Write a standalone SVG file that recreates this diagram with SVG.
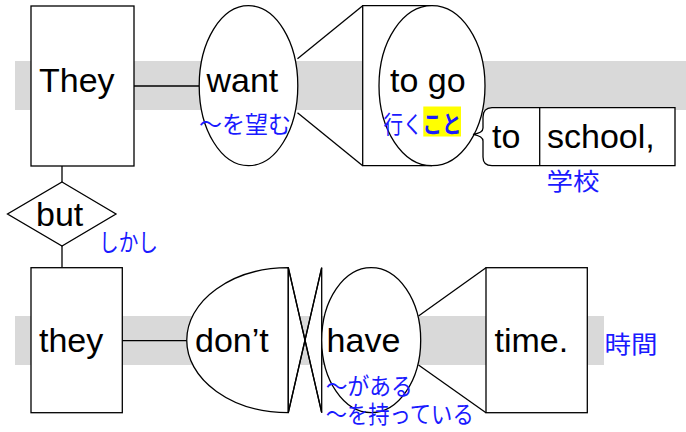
<svg xmlns="http://www.w3.org/2000/svg" width="686" height="432" viewBox="0 0 686 432">
<style>
.band{fill:#d9d9d9;stroke:none}
.shape{fill:#fff;stroke:#000;stroke-width:1.3}
.ln{fill:none;stroke:#000;stroke-width:1.3}
.en{font-family:"Liberation Sans",Arial,sans-serif;font-size:34px;fill:#000}
.ja{font-family:"Noto Sans CJK JP",sans-serif;font-size:24px;fill:#1a1aff}
.hl{fill:#ffff00}
</style>
<rect width="686" height="432" fill="#fff"/>
<g id="bands">
<rect class="band" x="15" y="61" width="671" height="49"/>
<rect class="band" x="15" y="316" width="589" height="49"/>
</g>
<g id="connectors">
<line class="ln" x1="133" y1="86" x2="199" y2="86"/>
<line class="ln" x1="297.5" y1="58.7" x2="362.7" y2="5.7"/>
<line class="ln" x1="297.5" y1="112.7" x2="362.7" y2="165.7"/>
<line class="ln" x1="62" y1="166" x2="62" y2="182"/>
<line class="ln" x1="62" y1="246" x2="62" y2="267.7"/>
<line class="ln" x1="122" y1="340.7" x2="187" y2="340.7"/>
<line class="ln" x1="418.5" y1="316" x2="486" y2="267.7"/>
<line class="ln" x1="418.5" y1="365" x2="486" y2="412.7"/>
</g>
<g id="node-they1">
<rect class="shape" x="31" y="6" width="103" height="160"/>
<text class="en" x="39" y="92">They</text>
</g>
<g id="node-want">
<ellipse class="shape" cx="248.5" cy="85.7" rx="49.3" ry="80"/>
<text class="en" x="206.5" y="92">want</text>
<text class="ja" x="199" y="133" textLength="92" lengthAdjust="spacingAndGlyphs">～を望む</text>
</g>
<g id="node-togo">
<path class="shape" d="M432,5.7 H362.7 V165.7 H432"/>
<ellipse class="shape" cx="432" cy="85.7" rx="53" ry="80"/>
<text class="en" x="390" y="92">to go</text>
<rect class="hl" x="423.3" y="106.5" width="37.7" height="30"/>
<text class="ja" x="383.5" y="133" textLength="78" lengthAdjust="spacingAndGlyphs">行く<tspan font-weight="bold">こと</tspan></text>
</g>
<g id="node-toschool">
<path class="shape" d="M675,107.7 H492 Q483,108 483,117 V128 Q483,133 473,134.3 Q483,136 483,141 V157 Q483,165.7 492,165.7 H675 Z"/>
<line class="ln" x1="539.7" y1="107.7" x2="539.7" y2="165.7"/>
<text class="en" x="492" y="148">to</text>
<text class="en" x="547" y="148">school,</text>
<text class="ja" x="546.5" y="190" textLength="53" lengthAdjust="spacingAndGlyphs">学校</text>
</g>
<g id="node-but">
<polygon class="shape" points="62,182 116,214 62,246 7.5,214"/>
<text class="en" x="36" y="226">but</text>
<text class="ja" x="99" y="250.5" textLength="59" lengthAdjust="spacingAndGlyphs">しかし</text>
</g>
<g id="node-they2">
<rect class="shape" x="31" y="267.7" width="91.3" height="145"/>
<text class="en" x="39" y="351.7">they</text>
</g>
<g id="node-dont">
<path class="shape" d="M288.3,267.7 A101.6,72.5 0 0 0 288.3,412.7 Z"/>
<polygon class="shape" points="288.3,267.7 305,340.2 288.3,412.7"/>
<polygon class="shape" points="321.7,267.7 305,340.2 321.7,412.7"/>
<line class="ln" x1="288.3" y1="267.7" x2="321.7" y2="412.7"/>
<line class="ln" x1="288.3" y1="412.7" x2="321.7" y2="267.7"/>
<text class="en" x="195" y="351.7">don’t</text>
</g>
<g id="node-have">
<ellipse class="shape" cx="371.2" cy="340.2" rx="49.5" ry="72.5"/>
<text class="en" x="326.6" y="352.3">have</text>
<text class="ja" x="325.7" y="395" textLength="87" lengthAdjust="spacingAndGlyphs">～がある</text>
<text class="ja" x="325.7" y="423.3" textLength="148" lengthAdjust="spacingAndGlyphs">～を持っている</text>
</g>
<g id="node-time">
<rect class="shape" x="486" y="267.7" width="101.3" height="145"/>
<text class="en" x="494.5" y="352.3">time.</text>
<text class="ja" x="604.5" y="353.3" textLength="53" lengthAdjust="spacingAndGlyphs">時間</text>
</g>
</svg>
